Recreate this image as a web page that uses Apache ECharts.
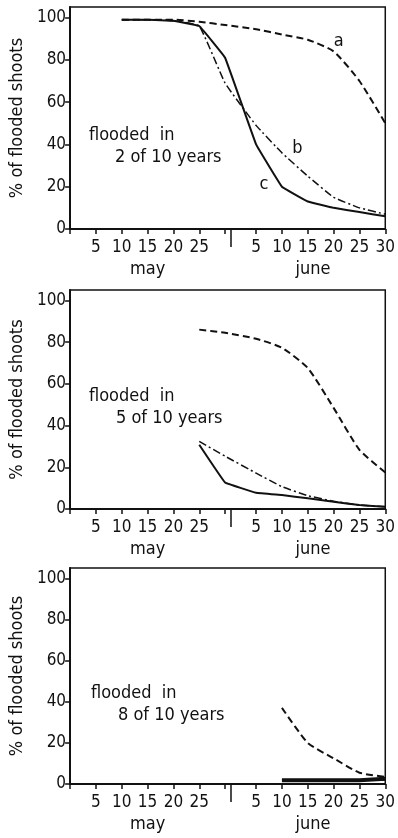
<!DOCTYPE html>
<html>
<head>
<meta charset="utf-8">
<script src="https://cdn.jsdelivr.net/npm/echarts@6/dist/echarts.min.js"></script>
<style>
  html, body { margin: 0; padding: 0; background: #fff; }
  #chart { width: 398px; height: 838px; }
</style>
</head>
<body>
<div id="chart"></div>
<script>
// days counted from 30 April: may 5 = 5 ... may 31 = 31, june 5 = 36 ... june 30 = 61
const labelDays = [5, 10, 15, 20, 25, 36, 41, 46, 51, 56, 61];
const tickDays = [0, 5, 10, 15, 20, 25, 30, 36, 41, 46, 51, 56, 61];
const monthDays = [15, 47];
const monthNames = ['may', 'june'];
const yTicks = [0, 20, 40, 60, 80, 100];

// panel 1: flooded in 2 of 10 years
const days1 = [10, 15, 20, 25, 30, 36, 41, 46, 51, 56, 61];
const p1a = [99, 99, 99, 98, 96.5, 94.5, 92, 89.5, 84, 70, 50];
const p1b = [99, 99, 98.5, 96, 69, 49, 36, 25, 15, 10, 7];
const p1c = [99, 99, 98.5, 96, 81, 40, 20, 13, 10, 8, 6];

// panel 2: flooded in 5 of 10 years
const days2 = [25, 30, 36, 41, 46, 51, 56, 61];
const p2a = [86, 84.5, 81.6, 77.3, 67.6, 48.5, 28.4, 17.5];
const p2b = [32.4, 25.3, 17.2, 10.7, 6.4, 3.7, 1.9, 1.1];
const p2c = [30.8, 12.7, 7.8, 6.7, 5.1, 3.5, 1.9, 1.1];

// panel 3: flooded in 8 of 10 years
const days3 = [41, 46, 51, 56, 61];
const p3a = [37, 20, 12.5, 5.5, 3.5];
const p3b = [1.8, 1.8, 1.8, 1.8, 2];
const p3c = [1.8, 1.8, 1.8, 1.8, 2.5];

const curveNames = ['a', 'b', 'c'];
const curveLabels = [[52, 89], [44, 38], [37.5, 21]];
const panelTexts = [['flooded  in', '2 of 10 years'], ['flooded  in', '5 of 10 years'], ['flooded  in', '8 of 10 years']];

const FONT = '"DejaVu Sans Condensed", "DejaVu Sans", sans-serif';
const INK = '#111';

const panels = [
  { top: 7, height: 222, days: days1, a: p1a, b: p1b, c: p1c, textY: [137, 159], textX: [89, 115] },
  { top: 290, height: 219, days: days2, a: p2a, b: p2b, c: p2c, textY: [398, 420], textX: [89, 116] },
  { top: 568, height: 216, days: days3, a: p3a, b: p3b, c: p3c, textY: [695, 717], textX: [91, 118] },
];

const zip = (xs, ys) => xs.map((x, i) => [x, ys[i]]);
const chart = echarts.init(document.getElementById('chart'));

const grid = [], xAxis = [], yAxis = [], series = [], graphic = [];

panels.forEach((p, i) => {
  grid.push({
    left: 70, right: 8, top: p.top, height: p.height,
    show: true, borderColor: INK, borderWidth: 1.5, backgroundColor: 'transparent',
  });

  // day axis with labels
  xAxis.push({
    type: 'value', gridIndex: i, min: 0, max: 61,
    axisLine: { show: true, onZero: false, lineStyle: { color: INK, width: 2 } },
    axisTick: { show: true, customValues: tickDays, length: 5, lineStyle: { color: INK, width: 1.5 } },
    axisLabel: {
      customValues: labelDays, margin: 10,
      color: INK, fontFamily: FONT, fontSize: 17,
      formatter: v => String(v > 31 ? v - 31 : v),
    },
    splitLine: { show: false },
  });
  // month divider
  xAxis.push({
    type: 'value', gridIndex: i, min: 0, max: 61, position: 'bottom',
    axisLine: { show: false },
    axisTick: { show: true, customValues: [31], length: 18, lineStyle: { color: INK, width: 1.5 } },
    axisLabel: { show: false },
    splitLine: { show: false },
  });
  // month names
  xAxis.push({
    type: 'value', gridIndex: i, min: 0, max: 61, position: 'bottom',
    axisLine: { show: false },
    axisTick: { show: false },
    axisLabel: {
      customValues: monthDays, margin: 31,
      color: INK, fontFamily: FONT, fontSize: 18,
      formatter: v => monthNames[monthDays.indexOf(v)],
    },
    splitLine: { show: false },
  });

  yAxis.push({
    type: 'value', gridIndex: i, min: 0, max: 105,
    name: '% of flooded shoots', nameLocation: 'middle', nameGap: 39,
    nameTextStyle: { color: INK, fontFamily: FONT, fontSize: 18 },
    axisLine: { show: true, lineStyle: { color: INK, width: 2 } },
    axisTick: { show: true, customValues: yTicks, length: 5, lineStyle: { color: INK, width: 1.5 } },
    axisLabel: { customValues: yTicks, margin: 4, color: INK, fontFamily: FONT, fontSize: 17 },
    splitLine: { show: false },
  });

  const styles = [
    { type: [7, 4], width: 2, smooth: 0.2 },
    { type: [8, 3, 2, 3], width: 1.5, smooth: 0.1 },
    { type: 'solid', width: i === 2 ? 4 : 2, smooth: 0.05 },
  ];
  [p.a, p.b, p.c].forEach((vals, k) => {
    const s = {
      type: 'line', name: curveNames[k] + (i + 1),
      xAxisIndex: i * 3, yAxisIndex: i,
      data: zip(p.days, vals),
      symbol: 'none', smooth: styles[k].smooth, silent: true, animation: false,
      lineStyle: { color: INK, width: styles[k].width, type: styles[k].type },
      z: 3 - k,
    };
    if (i === 0) {
      s.markPoint = {
        symbol: 'circle', symbolSize: 2, silent: true,
        itemStyle: { color: 'rgba(0,0,0,0)' },
        data: [{ coord: curveLabels[k] }],
        label: { show: true, position: 'inside', formatter: curveNames[k], color: INK, fontFamily: FONT, fontSize: 18 },
      };
    }
    series.push(s);
  });

  panelTexts[i].forEach((t, j) => {
    graphic.push({
      type: 'text', left: p.textX[j], top: p.textY[j] - 11,
      style: { text: t, fill: INK, font: '18px ' + FONT },
    });
  });
});

chart.setOption({
  backgroundColor: '#fff',
  animation: false,
  grid, xAxis, yAxis, series, graphic,
});
</script>
</body>
</html>
